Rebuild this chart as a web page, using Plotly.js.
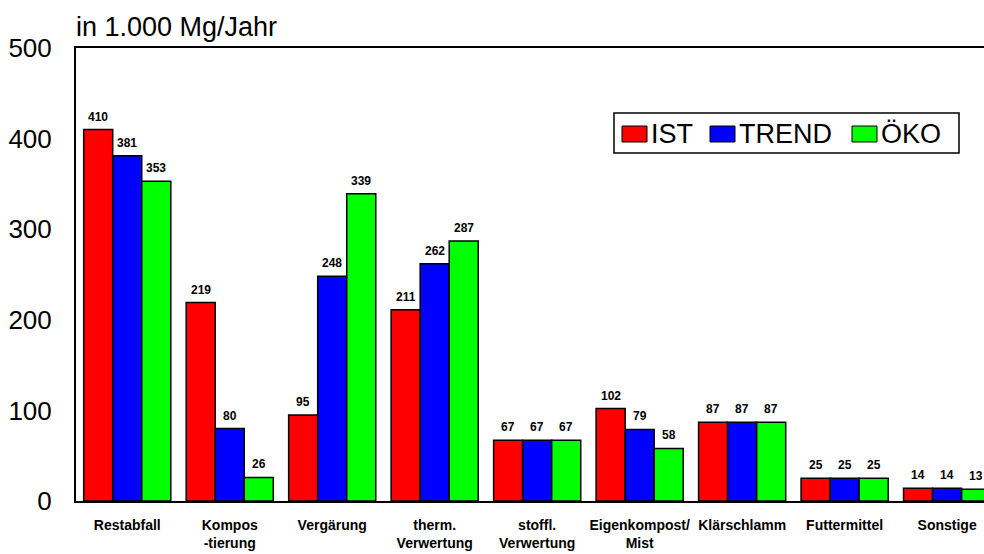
<!DOCTYPE html>
<html>
<head>
<meta charset="utf-8">
<script src="https://cdn.plot.ly/plotly-3.0.1.min.js"></script>
<style>
  body { margin: 0; background: #fff; }
  #chart { width: 984px; height: 554px; }
</style>
</head>
<body>
<div id="chart"></div>
<script>
// Categories and values (in 1.000 Mg/Jahr)
const categories = ["Restabfall", "Kompos<br>-tierung", "Vergärung", "therm.<br>Verwertung",
    "stoffl.<br>Verwertung", "Eigenkompost/<br>Mist", "Klärschlamm", "Futtermittel", "Sonstige"];
const seriesNames = ["IST", "TREND", "ÖKO"];
const seriesColors = ["#FF0000", "#0000FF", "#00FF00"];
const istValues = [410, 219, 95, 211, 67, 102, 87, 25, 14];
const trendValues = [381, 80, 248, 262, 67, 79, 87, 25, 14];
const oekoValues = [353, 26, 339, 287, 67, 58, 87, 25, 13];
const allValues = [istValues, trendValues, oekoValues];

const bargap = 0.15;
const barWidth = (1 - bargap) / 3;
const idx = categories.map((c, i) => i);

const sans = 'Liberation Sans, Arial, sans-serif';

const data = allValues.map((vals, k) => ({
    type: 'bar',
    x: idx,
    y: vals,
    name: seriesNames[k],
    marker: { color: seriesColors[k], line: { color: '#000', width: 1.5 } },
    showlegend: false,
    hoverinfo: 'x+y'
}));

// value labels above each bar
const annotations = [];
allValues.forEach((vals, k) => {
    vals.forEach((v, i) => {
        annotations.push({
            x: i + (k - 1) * barWidth, y: v, xref: 'x', yref: 'y',
            text: String(v), showarrow: false,
            yanchor: 'bottom', yshift: 4,
            font: { family: sans, size: 12, color: '#000', weight: 'bold' }
        });
    });
});

// unit title
annotations.push({
    x: 0, y: 1, xref: 'paper', yref: 'paper', xanchor: 'left', yanchor: 'bottom',
    xshift: -2, yshift: 4, showarrow: false,
    text: 'in 1.000 Mg/Jahr',
    font: { family: sans, size: 27, color: '#000' }
});

// custom legend (box + swatches + labels)
const legendX = [622, 710, 852];
const shapes = [{
    type: 'rect', xref: 'paper', yref: 'paper',
    x0: (614 - 76) / 908, x1: (959 - 76) / 908,
    y0: (501 - 153) / 453, y1: (501 - 113) / 453,
    line: { color: '#000', width: 1.5 }, fillcolor: '#fff'
}];
seriesNames.forEach((name, k) => {
    shapes.push({
        type: 'rect', xref: 'paper', yref: 'paper',
        x0: (legendX[k] - 76) / 908, x1: (legendX[k] + 25 - 76) / 908,
        y0: (501 - 142) / 453, y1: (501 - 126) / 453,
        fillcolor: seriesColors[k], line: { color: '#000', width: 1 }
    });
    annotations.push({
        x: (legendX[k] + 27 - 76) / 908, y: (501 - 134) / 453, xref: 'paper', yref: 'paper',
        xanchor: 'left', yanchor: 'middle', showarrow: false, text: name,
        font: { family: sans, size: 27, color: '#000' }
    });
});

const layout = {
    width: 984,
    height: 554,
    margin: { l: 76, r: 0, t: 48, b: 53 },
    paper_bgcolor: '#fff',
    plot_bgcolor: '#fff',
    barmode: 'group',
    bargap: bargap,
    bargroupgap: 0,
    showlegend: false,
    xaxis: {
        range: [-0.5, 8.36],
        tickmode: 'array',
        tickvals: idx,
        ticktext: categories,
        tickangle: 0,
        showgrid: false,
        zeroline: false,
        showline: true,
        linecolor: '#000',
        linewidth: 2,
        mirror: true,
        ticks: '',
        ticklabelstandoff: 10,
        tickfont: { family: sans, size: 14, color: '#000', weight: 'bold' }
    },
    yaxis: {
        range: [0, 500],
        tickvals: [0, 100, 200, 300, 400, 500],
        showgrid: false,
        zeroline: false,
        showline: true,
        linecolor: '#000',
        linewidth: 2,
        ticks: '',
        ticklabelstandoff: 17,
        tickfont: { family: sans, size: 26, color: '#000' }
    },
    annotations: annotations,
    shapes: shapes
};

Plotly.newPlot('chart', data, layout, { displayModeBar: false, staticPlot: true });
</script>
</body>
</html>
